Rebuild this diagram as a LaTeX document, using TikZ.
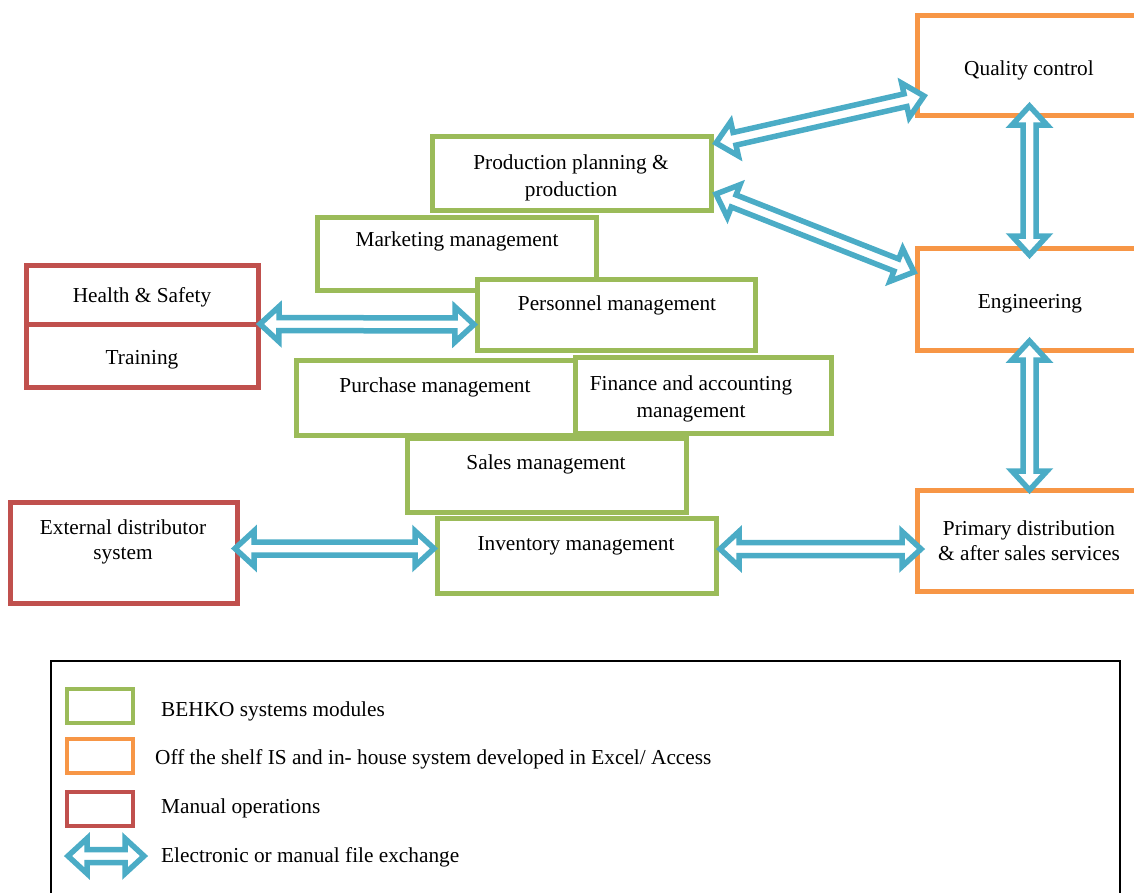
\documentclass[tikz,border=0pt]{standalone}
\usepackage{fontspec}
\setmainfont{Liberation Serif}
\usetikzlibrary{calc}
\definecolor{cgreen}{RGB}{155,187,89}
\definecolor{corange}{RGB}{247,150,70}
\definecolor{cred}{RGB}{192,80,77}
\definecolor{cblue}{RGB}{75,172,198}
\def\arrH{19pt}
\def\arrW{17.5pt}
\def\arrS{6.5pt}
\newcommand{\dblarrow}[2]{%
 \draw[xarrow] (#1)
 -- ($(#1)!\arrH!(#2)!\arrW!90:(#2)$)
 -- ($(#1)!\arrH!(#2)!\arrS!90:(#2)$)
 -- ($(#2)!\arrH!(#1)!\arrS!-90:(#1)$)
 -- ($(#2)!\arrH!(#1)!\arrW!-90:(#1)$)
 -- (#2)
 -- ($(#2)!\arrH!(#1)!\arrW!90:(#1)$)
 -- ($(#2)!\arrH!(#1)!\arrS!90:(#1)$)
 -- ($(#1)!\arrH!(#2)!\arrS!-90:(#2)$)
 -- ($(#1)!\arrH!(#2)!\arrW!-90:(#2)$)
 -- cycle;}
\tikzset{
 boxbase/.style={draw, line width=5, fill=white, outer sep=0pt, inner sep=0pt},
 gbox/.style={boxbase, draw=cgreen},
 obox/.style={boxbase, draw=corange},
 rbox/.style={boxbase, draw=cred},
 lgbox/.style={boxbase, line width=4, minimum width=66, minimum height=34},
 xarrow/.style={draw=cblue, fill=white, line width=5.5, line join=miter},
 txt/.style={anchor=base, inner sep=0pt, font=\fontsize{21.3}{28}\selectfont},
 ltxt/.style={txt, anchor=base west},
}
\begin{document}
\begin{tikzpicture}[x=1pt,y=-1pt]
\path[use as bounding box] (0,0) rectangle (1134,892);
\clip (0,0) rectangle (1134,892);
% boxes
\node[gbox, minimum width=279, minimum height=74] (pp) at (571.5,173) {};
\node[gbox, minimum width=279, minimum height=73] (mk) at (456.5,253.5) {};
\node[gbox, minimum width=278, minimum height=71] (pers) at (616,314.5) {};
\node[rbox, minimum width=232, minimum height=59] (hs) at (142,294.5) {};
\node[rbox, minimum width=232, minimum height=63] (tr) at (142,355.5) {};
\node[gbox, minimum width=279, minimum height=75] (pur) at (435.5,397.5) {};
\node[gbox, minimum width=256, minimum height=76] (fin) at (703,395) {};
\node[gbox, minimum width=279, minimum height=74] (sal) at (546.5,475) {};
\node[gbox, minimum width=279, minimum height=75] (inv) at (576.5,555.5) {};
\node[rbox, minimum width=227, minimum height=101] (ext) at (123.5,552.5) {};
\node[obox, minimum width=225, minimum height=100] (qc) at (1029.5,65) {};
\node[obox, minimum width=225, minimum height=102] (eng) at (1029.5,299) {};
\node[obox, minimum width=225, minimum height=101] (prim) at (1029.5,540.5) {};
% texts
\node[txt] (pp-t1) at (571,169) {Production planning \&};
\node[txt] (pp-t2) at (571,196) {production};
\node[txt] (mk-t) at (457,246) {Marketing management};
\node[txt] (pers-t) at (617,310) {Personnel management};
\node[txt] (hs-t) at (142,302) {Health \& Safety};
\node[txt] (tr-t) at (142,364) {Training};
\node[txt] (pur-t) at (435,392) {Purchase management};
\node[txt] (fin-t1) at (691,390) {Finance and accounting};
\node[txt] (fin-t2) at (691,417) {management};
\node[txt] (sal-t) at (546,469) {Sales management};
\node[txt] (inv-t) at (576,550) {Inventory management};
\node[txt] (ext-t1) at (123,534) {External distributor};
\node[txt] (ext-t2) at (123,559) {system};
\node[txt] (qc-t) at (1029,75) {Quality control};
\node[txt] (eng-t) at (1030,308) {Engineering};
\node[txt] (prim-t1) at (1029,535) {Primary distribution};
\node[txt] (prim-t2) at (1029,560) {\& after sales services};
% connector end points
\coordinate (a1) at ([xshift=2pt]hs.south east);
\coordinate (b1) at ([xshift=-3pt,yshift=-10pt]pers.west);
\coordinate (a2) at ([xshift=5pt,yshift=-7pt]pp.north east);
\coordinate (b2) at ([xshift=7pt,yshift=-31pt]qc.west);
\coordinate (a3) at ([xshift=5pt,yshift=16pt]pp.south east);
\coordinate (b3) at ([xshift=-3pt,yshift=-24pt]eng.north west);
\coordinate (a4) at ([yshift=9pt]qc.south);
\coordinate (b4) at ([yshift=-7pt]eng.north);
\coordinate (a5) at ([yshift=9pt]eng.south);
\coordinate (b5) at (prim.north);
\coordinate (a6) at ([xshift=-2pt,yshift=4pt]ext.east);
\coordinate (b6) at ([xshift=-3pt,yshift=7pt]inv.west);
\coordinate (a7) at ([xshift=4pt,yshift=6.5pt]inv.east);
\coordinate (b7) at ([xshift=4pt,yshift=-8.5pt]prim.west);
\dblarrow{a1}{b1}
\dblarrow{a2}{b2}
\dblarrow{a3}{b3}
\dblarrow{a4}{b4}
\dblarrow{a5}{b5}
\dblarrow{a6}{b6}
\dblarrow{a7}{b7}
% legend
\node[draw=black, line width=1.5, minimum width=1069, minimum height=244, inner sep=0pt, outer sep=0pt] (legend) at (585.5,783) {};
\node[lgbox, draw=cgreen] (lg1) at (100,705.5) {};
\node[lgbox, draw=corange] (lg2) at (100,756) {};
\node[lgbox, draw=cred] (lg3) at (100,808.5) {};
\coordinate (la1) at (68,856);
\coordinate (la2) at (144,856);
\dblarrow{la1}{la2}
\node[ltxt] (lt1) at (161,716) {BEHKO systems modules};
\node[ltxt] (lt2) at (155,764) {Off the shelf IS and in- house system developed in Excel/ Access};
\node[ltxt] (lt3) at (161,813) {Manual operations};
\node[ltxt] (lt4) at (161,862) {Electronic or manual file exchange};
\end{tikzpicture}
\end{document}
